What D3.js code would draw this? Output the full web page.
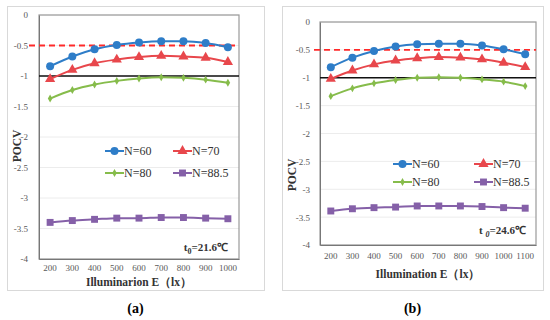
<!DOCTYPE html>
<html>
<head>
<meta charset="utf-8">
<style>
    body { margin: 0; background: #fff; }
    text { font-family: 'Liberation Serif', 'Times New Roman', serif; }
    .tick text { fill: #595959; font-size: 9px; }
</style>
<script src="https://d3js.org/d3.v7.min.js"></script>
</head>
<body>
<svg id="chart" width="550" height="320"></svg>
<script>
// series names + colors
var seriesNames = ['N=60', 'N=70', 'N=80', 'N=88.5'];
var seriesColors = ['#2e7dc8', '#e8474c', '#86bc4b', '#8560a8'];
var seriesSymbols = [d3.symbolCircle, d3.symbolTriangle, d3.symbolDiamond, d3.symbolSquare];
var symbolSizes = [50, 45, 18, 48];
var yTicks = [0, -0.5, -1, -1.5, -2, -2.5, -3, -3.5, -4];

// panel (a), t0 = 21.6
var lightA = [200, 300, 400, 500, 600, 700, 800, 900, 1000];
var n60A = [-0.84, -0.68, -0.56, -0.49, -0.45, -0.43, -0.43, -0.46, -0.53];
var n70A = [-1.05, -0.90, -0.79, -0.73, -0.69, -0.67, -0.68, -0.70, -0.77];
var n80A = [-1.37, -1.23, -1.14, -1.08, -1.04, -1.02, -1.03, -1.06, -1.11];
var n885A = [-3.40, -3.37, -3.35, -3.33, -3.33, -3.32, -3.32, -3.33, -3.34];

// panel (b), t0 = 24.6
var lightB = [200, 300, 400, 500, 600, 700, 800, 900, 1000, 1100];
var n60B = [-0.81, -0.64, -0.52, -0.44, -0.40, -0.39, -0.39, -0.42, -0.49, -0.58];
var n70B = [-1.02, -0.87, -0.76, -0.69, -0.65, -0.63, -0.64, -0.67, -0.73, -0.81];
var n80B = [-1.33, -1.19, -1.10, -1.04, -1.00, -0.99, -1.00, -1.03, -1.07, -1.15];
var n885B = [-3.39, -3.35, -3.33, -3.32, -3.30, -3.30, -3.30, -3.31, -3.33, -3.34];

var serif = "'Liberation Serif', 'Times New Roman', serif";
var svg = d3.select('#chart');

function drawPanel(p) {
    var g = svg.append('g');
    // outer frame
    g.append('rect')
        .attr('x', p.box[0] + 0.5).attr('y', p.box[1] + 0.5)
        .attr('width', p.box[2] - p.box[0]).attr('height', p.box[3] - p.box[1])
        .attr('fill', 'none').attr('stroke', '#d9d9d9');

    var x = d3.scaleBand().domain(p.cats).range([p.left, p.right]);
    var y = d3.scaleLinear().domain([-4, 0]).range([p.bottom, p.top]);

    // gridlines
    g.selectAll('line.grid').data(yTicks).enter().append('line')
        .attr('class', 'grid')
        .attr('x1', p.left).attr('x2', p.right)
        .attr('y1', function (d) { return y(d); })
        .attr('y2', function (d) { return y(d); })
        .attr('stroke', '#ececec');

    // plot border
    g.append('rect')
        .attr('x', p.left).attr('y', p.top)
        .attr('width', p.right - p.left).attr('height', p.bottom - p.top)
        .attr('fill', 'none').attr('stroke', '#9a9a9a').attr('stroke-width', 1.2);

    var yAxis = d3.axisLeft(y).tickValues(yTicks).tickSize(0).tickPadding(p.yPad)
        .tickFormat(function (d) { return d === 0 ? '0' : String(d); });
    g.append('g').attr('transform', 'translate(' + p.left + ',0)').call(yAxis)
        .attr('font-family', serif)
        .call(function (a) { a.select('.domain').attr('stroke', '#777'); });

    var xAxis = d3.axisBottom(x).tickSize(0).tickPadding(p.xPad);
    g.append('g').attr('transform', 'translate(0,' + p.bottom + ')').call(xAxis)
        .attr('font-family', serif)
        .call(function (a) { a.select('.domain').attr('stroke', '#777'); });

    // reference lines
    g.append('line')
        .attr('x1', p.dashStart).attr('x2', p.right)
        .attr('y1', y(-0.5)).attr('y2', y(-0.5))
        .attr('stroke', '#ff2a2a').attr('stroke-width', 1.8).attr('stroke-dasharray', '6,4');
    g.append('line')
        .attr('x1', p.left).attr('x2', p.right)
        .attr('y1', y(-1)).attr('y2', y(-1))
        .attr('stroke', '#111').attr('stroke-width', 1.6);

    var line = d3.line()
        .x(function (d, i) { return x(p.cats[i]) + x.bandwidth() / 2; })
        .y(function (d) { return y(d); })
        .curve(d3.curveMonotoneX);

    p.series.forEach(function (vals, s) {
        g.append('path').datum(vals)
            .attr('d', line).attr('fill', 'none')
            .attr('stroke', seriesColors[s]).attr('stroke-width', 2);
        g.selectAll('path.pt' + s).data(vals).enter().append('path')
            .attr('class', 'pt' + s)
            .attr('d', d3.symbol().type(seriesSymbols[s]).size(symbolSizes[s]))
            .attr('transform', function (d, i) {
                return 'translate(' + (x(p.cats[i]) + x.bandwidth() / 2) + ',' + y(d) + ')';
            })
            .attr('fill', seriesColors[s]);
    });

    // legend
    seriesNames.forEach(function (name, s) {
        var lx = p.legX[s % 2], ly = p.legY[Math.floor(s / 2)];
        g.append('line').attr('x1', lx).attr('x2', lx + 19).attr('y1', ly).attr('y2', ly)
            .attr('stroke', seriesColors[s]).attr('stroke-width', 2);
        g.append('path')
            .attr('d', d3.symbol().type(seriesSymbols[s]).size(symbolSizes[s]))
            .attr('transform', 'translate(' + (lx + 9.5) + ',' + ly + ')')
            .attr('fill', seriesColors[s]);
        g.append('text').attr('x', lx + 19).attr('y', ly + 4)
            .attr('font-family', serif)
            .attr('font-size', 12).attr('fill', '#333').text(name);
    });

    // temperature note
    var t = g.append('text').attr('x', p.tempX).attr('y', p.tempY)
        .attr('text-anchor', 'end').attr('font-size', 11).attr('font-weight', 'bold').attr('fill', '#333');
    t.append('tspan').text(p.tempPre);
    t.append('tspan').attr('font-size', 8).attr('dy', 3).attr('font-style', p.subItalic ? 'italic' : 'normal').text('0');
    t.append('tspan').attr('dy', -3).text(p.tempPost);

    // axis titles
    g.append('text')
        .attr('transform', 'translate(' + p.yTitleX + ',' + p.yTitleY + ') rotate(-90)')
        .attr('text-anchor', 'middle').attr('font-size', 11.5).attr('font-weight', 'bold').attr('fill', '#333')
        .text('POCV');
    g.append('text').attr('x', (p.left + p.right) / 2).attr('y', p.xTitleY)
        .attr('text-anchor', 'middle').attr('font-size', 11.5).attr('font-weight', 'bold').attr('fill', '#333')
        .text(p.xTitle);

    g.append('text').attr('x', (p.box[0] + p.box[2]) / 2).attr('y', 313)
        .attr('text-anchor', 'middle').attr('font-size', 14).attr('font-weight', 'bold').attr('fill', '#000')
        .text(p.label);
}

drawPanel({
    box: [7, 6, 264, 290],
    left: 39, right: 239, top: 15, bottom: 259,
    cats: lightA, series: [n60A, n70A, n80A, n885A],
    yPad: 11, xPad: 6, dashStart: 29,
    legX: [105, 173], legY: [151, 173],
    tempX: 228, tempY: 251, tempPre: 't', tempPost: '=21.6\u2103', subItalic: false,
    yTitleX: 21, yTitleY: 146, xTitleY: 286,
    xTitle: 'Illuminarion  E\uff08lx\uff09', label: '(a)'
});

drawPanel({
    box: [282, 6, 543, 290],
    left: 320, right: 536, top: 22, bottom: 245,
    cats: lightB, series: [n60B, n70B, n80B, n885B],
    yPad: 10, xPad: 8, dashStart: 314,
    legX: [393, 474], legY: [164, 182],
    tempX: 526, tempY: 234, tempPre: 't ', tempPost: '=24.6\u2103', subItalic: true,
    yTitleX: 296, yTitleY: 175, xTitleY: 278,
    xTitle: 'Illumination  E\uff08lx\uff09', label: '(b)'
});
</script>
</body>
</html>
